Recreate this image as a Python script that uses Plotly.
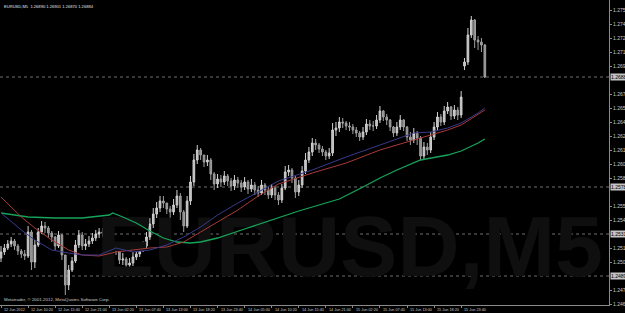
import plotly.graph_objects as go

# ---------------- data ----------------
tick_labels = ["12 Jun 2012", "12 Jun 10:20", "12 Jun 15:40", "12 Jun 21:00", "13 Jun 02:20",
               "13 Jun 07:40", "13 Jun 13:00", "13 Jun 18:20", "13 Jun 23:40", "14 Jun 05:00",
               "14 Jun 10:20", "14 Jun 15:40", "14 Jun 21:00", "15 Jun 02:20", "15 Jun 07:40",
               "15 Jun 13:00", "15 Jun 18:20", "15 Jun 23:40"]

opens = [1.2507,1.2513,1.2517,1.2521,1.2524,1.2519,1.2514,1.2511,1.2509,1.2533,
         1.2503,1.2520,1.2533,1.2539,1.2537,1.2532,1.2528,1.2519,1.2530,1.2510,
         1.2480,1.2495,1.2504,1.2520,1.2530,1.2519,1.2521,1.2524,1.2527,1.2531,
         1.2533,1.2532,1.2529,1.2525,1.2521,1.2515,1.2505,1.2506,1.2500,1.2502,
         1.2508,1.2511,1.2515,1.2519,1.2528,1.2541,1.2551,1.2557,1.2564,1.2562,
         1.2556,1.2553,1.2560,1.2569,1.2553,1.2539,1.2564,1.2583,1.2605,1.2615,
         1.2610,1.2603,1.2605,1.2591,1.2581,1.2586,1.2583,1.2589,1.2584,1.2579,
         1.2585,1.2582,1.2578,1.2583,1.2576,1.2580,1.2575,1.2572,1.2580,1.2575,
         1.2570,1.2577,1.2570,1.2565,1.2577,1.2593,1.2595,1.2587,1.2573,1.2580,
         1.2594,1.2605,1.2613,1.2622,1.2620,1.2616,1.2613,1.2609,1.2612,1.2635,
         1.2637,1.2643,1.2642,1.2639,1.2638,1.2635,1.2632,1.2628,1.2633,1.2641,
         1.2639,1.2639,1.2645,1.2654,1.2648,1.2645,1.2638,1.2632,1.2638,1.2645,
         1.2638,1.2628,1.2625,1.2632,1.2627,1.2609,1.2618,1.2615,1.2628,1.2638,
         1.2648,1.2643,1.2654,1.2658,1.2649,1.2655,1.2650,1.2699,1.2703,1.2730,
         1.2745,1.2725,1.2723,1.2720]

highs = [1.2519,1.2521,1.2525,1.2528,1.2526,1.2521,1.2516,1.2515,1.2539,1.2535,
         1.2525,1.2537,1.2544,1.2543,1.2539,1.2534,1.2529,1.2534,1.2531,1.2510,
         1.2500,1.2508,1.2525,1.2535,1.2533,1.2526,1.2529,1.2532,1.2535,1.2537,
         1.2537,1.2535,1.2531,1.2527,1.2522,1.2517,1.2512,1.2508,1.2507,1.2513,
         1.2516,1.2520,1.2524,1.2533,1.2547,1.2557,1.2563,1.2569,1.2569,1.2562,
         1.2559,1.2566,1.2575,1.2572,1.2555,1.2569,1.2589,1.2611,1.2620,1.2617,
         1.2610,1.2610,1.2607,1.2593,1.2591,1.2590,1.2594,1.2591,1.2587,1.2590,
         1.2588,1.2585,1.2588,1.2585,1.2586,1.2583,1.2579,1.2585,1.2582,1.2578,
         1.2581,1.2579,1.2573,1.2581,1.2599,1.2600,1.2597,1.2589,1.2585,1.2599,
         1.2612,1.2618,1.2627,1.2626,1.2622,1.2619,1.2615,1.2617,1.2642,1.2643,
         1.2648,1.2647,1.2644,1.2643,1.2641,1.2638,1.2634,1.2638,1.2646,1.2645,
         1.2644,1.2650,1.2659,1.2655,1.2651,1.2646,1.2639,1.2643,1.2650,1.2646,
         1.2639,1.2633,1.2637,1.2634,1.2629,1.2623,1.2622,1.2633,1.2643,1.2653,
         1.2651,1.2659,1.2663,1.2659,1.2660,1.2658,1.2674,1.2707,1.2737,1.2749,
         1.2746,1.2729,1.2727,1.2721]

lows = [1.2503,1.2510,1.2515,1.2518,1.2515,1.2510,1.2507,1.2505,1.2507,1.2495,
        1.2497,1.2518,1.2531,1.2532,1.2527,1.2523,1.2515,1.2517,1.2505,1.2470,
        1.2475,1.2493,1.2502,1.2517,1.2515,1.2515,1.2518,1.2521,1.2524,1.2527,
        1.2528,1.2525,1.2521,1.2516,1.2510,1.2501,1.2500,1.2495,1.2494,1.2499,
        1.2505,1.2508,1.2513,1.2516,1.2525,1.2537,1.2547,1.2553,1.2557,1.2551,
        1.2547,1.2550,1.2557,1.2545,1.2533,1.2537,1.2560,1.2579,1.2601,1.2605,
        1.2598,1.2599,1.2585,1.2575,1.2577,1.2578,1.2580,1.2579,1.2574,1.2575,
        1.2577,1.2573,1.2575,1.2571,1.2573,1.2570,1.2568,1.2570,1.2570,1.2566,
        1.2567,1.2565,1.2560,1.2562,1.2575,1.2589,1.2582,1.2567,1.2569,1.2577,
        1.2591,1.2602,1.2609,1.2615,1.2612,1.2609,1.2605,1.2606,1.2609,1.2629,
        1.2633,1.2637,1.2635,1.2634,1.2631,1.2628,1.2624,1.2625,1.2630,1.2635,
        1.2634,1.2636,1.2642,1.2644,1.2640,1.2634,1.2628,1.2629,1.2635,1.2634,
        1.2624,1.2620,1.2622,1.2620,1.2605,1.2605,1.2610,1.2612,1.2625,1.2635,
        1.2639,1.2640,1.2651,1.2645,1.2646,1.2645,1.2647,1.2695,1.2700,1.2727,
        1.2717,1.2715,1.2713,1.2687]

closes = [1.2513,1.2517,1.2521,1.2524,1.2519,1.2514,1.2511,1.2509,1.2533,1.2503,
          1.2520,1.2533,1.2539,1.2537,1.2532,1.2528,1.2519,1.2530,1.2510,1.2480,
          1.2495,1.2504,1.2520,1.2530,1.2519,1.2521,1.2524,1.2527,1.2531,1.2533,
          1.2532,1.2529,1.2525,1.2521,1.2515,1.2505,1.2506,1.2500,1.2502,1.2508,
          1.2511,1.2515,1.2519,1.2528,1.2541,1.2551,1.2557,1.2564,1.2562,1.2556,
          1.2553,1.2560,1.2569,1.2553,1.2539,1.2564,1.2583,1.2605,1.2615,1.2610,
          1.2603,1.2605,1.2591,1.2581,1.2586,1.2583,1.2589,1.2584,1.2579,1.2585,
          1.2582,1.2578,1.2583,1.2576,1.2580,1.2575,1.2572,1.2580,1.2575,1.2570,
          1.2577,1.2570,1.2565,1.2577,1.2593,1.2595,1.2587,1.2573,1.2580,1.2594,
          1.2605,1.2613,1.2622,1.2620,1.2616,1.2613,1.2609,1.2612,1.2635,1.2637,
          1.2643,1.2642,1.2639,1.2638,1.2635,1.2632,1.2628,1.2633,1.2641,1.2639,
          1.2639,1.2645,1.2654,1.2648,1.2645,1.2638,1.2632,1.2638,1.2645,1.2638,
          1.2628,1.2625,1.2632,1.2627,1.2609,1.2618,1.2615,1.2628,1.2638,1.2648,
          1.2643,1.2654,1.2658,1.2649,1.2655,1.2650,1.2668,1.2703,1.2730,1.2745,
          1.2725,1.2723,1.2720,1.2688]

ma_slow_bars = [0, 8, 16, 24, 32, 33, 36, 40, 44, 48, 52, 56, 59, 64, 72, 80, 88, 96, 100,
                107, 112, 117, 124, 132, 136, 141, 143]
ma_slow = [1.2552, 1.2548, 1.2547, 1.2547, 1.2550, 1.2552, 1.2548, 1.2542, 1.2534, 1.2527,
           1.2523, 1.2522, 1.2523, 1.2527, 1.2536, 1.2545, 1.2554, 1.2562, 1.2566,
           1.2578, 1.2587, 1.2595, 1.2605, 1.2610, 1.2614, 1.2622, 1.2626]

ma_bars = [0, 6, 10, 15, 20, 24, 29, 34, 39, 44, 49, 54, 59, 64, 70, 76, 82, 92, 102,
           112, 122, 127, 132, 136, 141, 143]
ma_mid = [1.2568, 1.2548, 1.2537, 1.2525, 1.2515, 1.2510, 1.2509, 1.2513, 1.2515, 1.2517,
          1.2518, 1.2523, 1.2533, 1.2543, 1.2555, 1.2569, 1.2581, 1.2592, 1.2602,
          1.2615, 1.2625, 1.2630, 1.2635, 1.2640, 1.2651, 1.2655]
ma_fast = [1.2552, 1.2535, 1.2525, 1.2515, 1.2512, 1.2510, 1.2510, 1.2517, 1.2513, 1.2515,
           1.2520, 1.2528, 1.2538, 1.2550, 1.2562, 1.2573, 1.2584, 1.2595, 1.2608,
           1.2620, 1.2632, 1.2633, 1.2637, 1.2642, 1.2652, 1.2657]

level_lines = [1.2578, 1.2531, 1.2489]
header = "EURUSD,M5  1.26890 1.26901 1.26870 1.26884"
copyright_text = "Metatrader, \u00a9 2001-2012, MetaQuotes Software Corp."
watermark = "EURUSD,M5"

# ---------------- layout constants ----------------
W, H = 625, 313
X0, X1 = -0.3, 179.7
Y0, Y1 = 1.2460, 1.2765
BARS_PER_LABEL = 8
FONT = "Liberation Sans"
TXT = "#c8c8c8"
AXC = "#8a8a8a"

bars = list(range(len(opens)))
tick_pos = [i * BARS_PER_LABEL for i in range(len(tick_labels))]
marked = level_lines + [closes[-1]]
ytick_vals = [round(1.2755 - 0.0014 * k, 5) for k in range(22)]
ytick_vals = [v for v in ytick_vals if all(abs(v - m) > 0.0007 for m in marked)]

fig = go.Figure()

# background watermark (drawn first, very faint)
fig.add_trace(go.Scatter(
    x=[X1 - 1.8], y=[Y0 + 0.0008], mode="text", text=[watermark],
    textposition="top left",
    textfont=dict(size=86, color="#0f0f0f", family=FONT, weight="bold"),
    hoverinfo="skip", showlegend=False))

fig.add_trace(go.Candlestick(
    x=bars, open=opens, high=highs, low=lows, close=closes,
    increasing=dict(line=dict(color="#d0d0d0", width=1), fillcolor="#bdbdbd"),
    decreasing=dict(line=dict(color="#a0a0a0", width=1), fillcolor="#8c8c8c"),
    whiskerwidth=0, showlegend=False, hoverinfo="skip"))

fig.add_trace(go.Scatter(x=ma_slow_bars, y=ma_slow, mode="lines",
                         line=dict(color="#17a45a", width=1.3), showlegend=False, hoverinfo="skip"))
fig.add_trace(go.Scatter(x=ma_bars, y=ma_mid, mode="lines",
                         line=dict(color="#a83a3a", width=1), showlegend=False, hoverinfo="skip"))
fig.add_trace(go.Scatter(x=ma_bars, y=ma_fast, mode="lines",
                         line=dict(color="#3a3a8c", width=1), showlegend=False, hoverinfo="skip"))

shapes = []
for v in marked:
    shapes.append(dict(type="line", xref="paper", x0=0, x1=1, yref="y", y0=v, y1=v,
                       line=dict(color="#6e6e6e", width=1, dash="dot"), layer="below"))

annotations = []
for pos, lab in zip(tick_pos, tick_labels):
    annotations.append(dict(x=pos, xref="x", y=0, yref="paper", text=lab, showarrow=False,
                            xanchor="left", yanchor="top", xshift=1, yshift=-1,
                            font=dict(size=3.8, color=TXT, family=FONT)))
annotations.append(dict(x=0, xref="paper", y=0, yref="paper", text=copyright_text,
                        showarrow=False, xanchor="left", yanchor="bottom", xshift=2, yshift=1,
                        font=dict(size=4.4, color=TXT, family=FONT)))
annotations.append(dict(x=0, xref="paper", y=1, yref="paper", text=header,
                        showarrow=False, xanchor="left", yanchor="top", xshift=2, yshift=-2,
                        font=dict(size=4.1, color="#e0e0e0", family=FONT)))
for v in marked:
    annotations.append(dict(x=1, xref="paper", y=v, yref="y", text=f"{v:.5f}",
                            showarrow=False, xanchor="left", yanchor="middle", xshift=1,
                            bgcolor="#c4c4c4", borderpad=0,
                            font=dict(size=5, color="#000000", family=FONT)))

fig.update_layout(
    width=W, height=H,
    margin=dict(l=0, r=16, t=0, b=8),
    paper_bgcolor="#000000", plot_bgcolor="#000000",
    showlegend=False,
    shapes=shapes, annotations=annotations,
    xaxis=dict(range=[X0, X1], showgrid=False, zeroline=False, showline=True,
               linecolor=AXC, linewidth=1, ticks="outside", ticklen=2, tickcolor=AXC,
               tickvals=tick_pos, showticklabels=False, rangeslider=dict(visible=False),
               fixedrange=True),
    yaxis=dict(range=[Y0, Y1], side="right", showgrid=False, zeroline=False, showline=True,
               linecolor=AXC, linewidth=1, ticks="outside", ticklen=2, tickcolor=AXC,
               tickvals=ytick_vals, tickformat=".5f", automargin=False,
               tickfont=dict(size=5, color=TXT, family=FONT), fixedrange=True),
)

fig.write_html("out.html")
